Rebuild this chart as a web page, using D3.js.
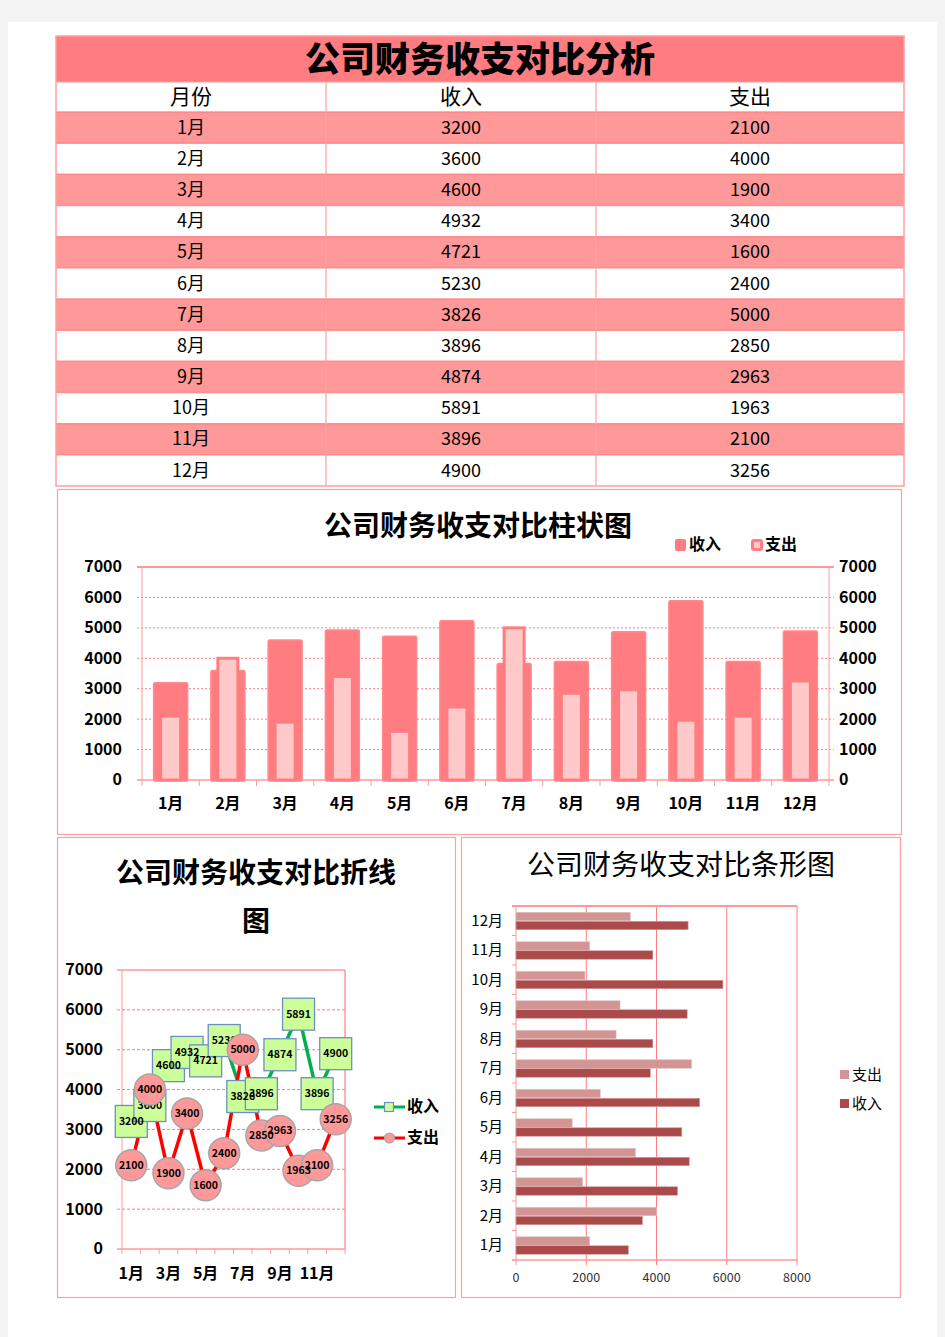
<!DOCTYPE html>
<html>
<head>
<meta charset="utf-8">
<script src="https://cdn.jsdelivr.net/npm/d3@7"></script>
<style>
  html, body { margin: 0; padding: 0; background: #f3f3f3; }
  svg { display: block; }
  text { font-family: "Noto Sans CJK SC", "Noto Sans", sans-serif; }
</style>
</head>
<body>
<svg id="chart" width="945" height="1337"></svg>
<script>
// ---------- DATA ----------
const mainTitle = "公司财务收支对比分析";
const tableHeaders = ["月份", "收入", "支出"];
const months = ["1月","2月","3月","4月","5月","6月","7月","8月","9月","10月","11月","12月"];
const income = [3200, 3600, 4600, 4932, 4721, 5230, 3826, 3896, 4874, 5891, 3896, 4900];
const expense = [2100, 4000, 1900, 3400, 1600, 2400, 5000, 2850, 2963, 1963, 2100, 3256];
const seriesNames = ["收入", "支出"];
const yTicks = [0, 1000, 2000, 3000, 4000, 5000, 6000, 7000];
const hTicks = [0, 2000, 4000, 6000, 8000];
const lineXLabels = ["1月", "3月", "5月", "7月", "9月", "11月"];
const barTitle = "公司财务收支对比柱状图";
const lineTitle1 = "公司财务收支对比折线";
const lineTitle2 = "图";
const hbarTitle = "公司财务收支对比条形图";

// ---------- SETUP ----------
const svg = d3.select("#chart");
const PINK_DARK = "#ff7c80";
const PINK_ROW = "#ff9999";
const PINK_LINE = "#ff9f9f";
const DY = "-0.1em";

// helper for centered text
function txt(g, x, y, s, size, weight, anchor) {
  return g.append("text").attr("x", x).attr("y", y).attr("dy", DY)
    .attr("text-anchor", anchor || "middle").attr("dominant-baseline", "central")
    .attr("font-size", size).attr("font-weight", weight || 400).attr("fill", "#000").text(s);
}

// page
svg.append("rect").attr("x", 0).attr("y", 0).attr("width", 945).attr("height", 1337).attr("fill", "#f3f3f3");
svg.append("rect").attr("x", 8).attr("y", 22).attr("width", 929).attr("height", 1315).attr("fill", "#ffffff");

// ---------- TABLE ----------
const T = { x0: 56, x1: 904, top: 36, titleB: 82, headB: 112, bottom: 486 };
const colEdges = [56, 326, 596, 904];
const colX = d3.scaleOrdinal().domain([0,1,2]).range([191, 461, 750]);
const rowY = d3.scaleBand().domain(months).range([T.headB, T.bottom]);
const tbl = svg.append("g");

tbl.append("rect").attr("x", T.x0).attr("y", T.top).attr("width", T.x1 - T.x0).attr("height", T.titleB - T.top)
  .attr("fill", PINK_DARK);
txt(tbl, (T.x0 + T.x1) / 2, (T.top + T.titleB) / 2 + 1, mainTitle, 35, 900);

tableHeaders.forEach((h, i) => txt(tbl, colX(i), (T.titleB + T.headB) / 2 + 0.5, h, 21, 400));

const rows = tbl.selectAll(".row").data(months).enter().append("g");
rows.append("rect")
  .attr("x", T.x0).attr("y", d => rowY(d)).attr("width", T.x1 - T.x0).attr("height", rowY.bandwidth())
  .attr("fill", (d, i) => i % 2 === 0 ? PINK_ROW : "#ffffff");
rows.each(function(d, i) {
  const g = d3.select(this);
  const vals = [d, income[i], expense[i]];
  g.selectAll("text").data(vals).enter().append("text")
    .attr("x", (v, j) => colX(j)).attr("y", rowY(d) + rowY.bandwidth() / 2).attr("dy", DY)
    .attr("text-anchor", "middle").attr("dominant-baseline", "central")
    .attr("font-size", 18).attr("fill", "#000").text(v => v);
});
months.forEach((m, i) => {
  tbl.append("line").attr("x1", T.x0).attr("x2", T.x1).attr("y1", rowY(m)).attr("y2", rowY(m))
    .attr("stroke", PINK_DARK).attr("stroke-width", 1.5).attr("opacity", 0.8);
});
tbl.append("line").attr("x1", T.x0).attr("x2", T.x1).attr("y1", T.titleB).attr("y2", T.titleB)
  .attr("stroke", PINK_LINE).attr("stroke-width", 1);
colEdges.slice(1, 3).forEach(x => {
  tbl.append("line").attr("x1", x).attr("x2", x).attr("y1", T.titleB).attr("y2", T.bottom)
    .attr("stroke", PINK_LINE).attr("stroke-width", 1.2);
});
tbl.append("rect").attr("x", T.x0).attr("y", T.top).attr("width", T.x1 - T.x0).attr("height", T.bottom - T.top)
  .attr("fill", "none").attr("stroke", PINK_LINE).attr("stroke-width", 1.5);

// ---------- PANELS ----------
function panel(x, y, w, h) {
  svg.append("rect").attr("x", x).attr("y", y).attr("width", w).attr("height", h)
    .attr("fill", "#fff").attr("stroke", PINK_LINE).attr("stroke-width", 1.2);
}
panel(57.5, 489.5, 844, 345);
panel(57.5, 837.5, 398, 460);
panel(461.5, 837.5, 439, 460);

// ---------- COLUMN CHART ----------
{
  const g = svg.append("g");
  const L = 142, R = 829, TOP = 567, BOT = 780;
  const x = d3.scaleBand().domain(months).range([L, R]);
  const y = d3.scaleLinear().domain([0, 7000]).range([BOT, TOP]);

  txt(g, 478, 527, barTitle, 28, 700);

  g.selectAll(".gl").data(yTicks.filter(t => t > 0 && t < 7000)).enter().append("line")
    .attr("x1", L - 5).attr("x2", R + 5).attr("y1", d => y(d)).attr("y2", d => y(d))
    .attr("stroke", PINK_DARK).attr("stroke-width", 1).attr("stroke-dasharray", "2,2");
  g.append("line").attr("x1", L - 5).attr("x2", R + 5).attr("y1", TOP).attr("y2", TOP).attr("stroke", PINK_ROW).attr("stroke-width", 2);
  g.append("line").attr("x1", L).attr("x2", L).attr("y1", TOP).attr("y2", BOT).attr("stroke", PINK_ROW).attr("stroke-width", 1);
  g.append("line").attr("x1", R).attr("x2", R).attr("y1", TOP).attr("y2", BOT).attr("stroke", PINK_ROW).attr("stroke-width", 1);
  g.append("line").attr("x1", L - 5).attr("x2", R + 5).attr("y1", BOT).attr("y2", BOT).attr("stroke", PINK_ROW).attr("stroke-width", 1.5);
  const bounds = months.map(m => x(m)).concat([R]);
  g.selectAll(".xt").data(bounds).enter().append("line")
    .attr("x1", d => d).attr("x2", d => d).attr("y1", BOT).attr("y2", BOT + 6)
    .attr("stroke", PINK_ROW).attr("stroke-width", 1);

  const wI = 34;
  g.selectAll(".bi").data(income).enter().append("rect")
    .attr("x", (d, i) => x(months[i]) + x.bandwidth() / 2 - wI / 2)
    .attr("y", d => y(d)).attr("width", wI).attr("height", d => BOT - y(d) + 1)
    .attr("fill", PINK_DARK).attr("stroke", "#ff8a8e").attr("stroke-width", 1.5).attr("rx", 1.5);
  const wE = 20;
  g.selectAll(".be").data(expense).enter().append("rect")
    .attr("x", (d, i) => x(months[i]) + x.bandwidth() / 2 - wE / 2)
    .attr("y", d => y(d)).attr("width", wE).attr("height", d => BOT - y(d))
    .attr("fill", "#ffc9c9").attr("stroke", PINK_DARK).attr("stroke-width", 3);

  yTicks.forEach(t => {
    txt(g, 122, y(t), t, 16, 700, "end");
    txt(g, 839, y(t), t, 16, 700, "start");
  });
  months.forEach(m => txt(g, x(m) + x.bandwidth() / 2, 804, m, 16, 700));

  g.append("rect").attr("x", 675).attr("y", 539).attr("width", 11).attr("height", 12).attr("rx", 2).attr("fill", PINK_DARK);
  txt(g, 689, 545, seriesNames[0], 16, 700, "start");
  g.append("rect").attr("x", 752.5).attr("y", 540.5).attr("width", 9).attr("height", 9).attr("rx", 1.5)
    .attr("fill", "#ffc9c9").attr("stroke", PINK_DARK).attr("stroke-width", 3);
  txt(g, 765, 545, seriesNames[1], 16, 700, "start");
}

// ---------- LINE CHART ----------
{
  const g = svg.append("g");
  const L = 122, R = 345, TOP = 970, BOT = 1249;
  const x = d3.scaleBand().domain(months).range([L, R]);
  const y = d3.scaleLinear().domain([0, 7000]).range([BOT, TOP]);
  const cx = m => x(m) + x.bandwidth() / 2;

  txt(g, 256, 874, lineTitle1, 28, 700);
  txt(g, 256, 922, lineTitle2, 28, 700);

  g.selectAll(".gl").data(yTicks.filter(t => t > 0 && t < 7000)).enter().append("line")
    .attr("x1", L - 5).attr("x2", R).attr("y1", d => y(d)).attr("y2", d => y(d))
    .attr("stroke", PINK_DARK).attr("stroke-width", 1).attr("stroke-dasharray", "3,2");
  g.append("line").attr("x1", L - 5).attr("x2", R).attr("y1", TOP).attr("y2", TOP).attr("stroke", PINK_ROW).attr("stroke-width", 1.5);
  g.append("line").attr("x1", L).attr("x2", L).attr("y1", TOP).attr("y2", BOT).attr("stroke", PINK_ROW).attr("stroke-width", 1);
  g.append("line").attr("x1", R).attr("x2", R).attr("y1", TOP).attr("y2", BOT).attr("stroke", PINK_ROW).attr("stroke-width", 1.5);
  g.append("line").attr("x1", L - 5).attr("x2", R).attr("y1", BOT).attr("y2", BOT).attr("stroke", PINK_ROW).attr("stroke-width", 1.5);
  const bounds = months.map(m => x(m)).concat([R]);
  g.selectAll(".xt").data(bounds).enter().append("line")
    .attr("x1", d => d).attr("x2", d => d).attr("y1", BOT).attr("y2", BOT + 5)
    .attr("stroke", PINK_ROW).attr("stroke-width", 1);

  yTicks.forEach(t => txt(g, 103, y(t), t, 16, 700, "end"));
  lineXLabels.forEach(m => txt(g, cx(m), 1274, m, 16, 700));

  const line = d3.line().x((d, i) => cx(months[i])).y(d => y(d));
  g.append("path").datum(income).attr("d", line).attr("fill", "none").attr("stroke", "#00b050").attr("stroke-width", 3.5);
  g.append("path").datum(expense).attr("d", line).attr("fill", "none").attr("stroke", "#ff0000").attr("stroke-width", 3.5);

  const sq = 32;
  income.forEach((v, i) => {
    g.append("rect").attr("x", cx(months[i]) - sq / 2).attr("y", y(v) - sq / 2).attr("width", sq).attr("height", sq)
      .attr("fill", "#ccff99").attr("stroke", "#6d8fc2").attr("stroke-width", 1.3);
  });
  income.forEach((v, i) => txt(g, cx(months[i]), y(v), v, 10.5, 700));
  expense.forEach((v, i) => {
    g.append("circle").attr("cx", cx(months[i])).attr("cy", y(v)).attr("r", 15.5)
      .attr("fill", "#ff9999").attr("stroke", "#a6a6a6").attr("stroke-width", 1.5);
  });
  expense.forEach((v, i) => txt(g, cx(months[i]), y(v), v, 10.5, 700));

  g.append("line").attr("x1", 374).attr("x2", 405).attr("y1", 1107).attr("y2", 1107).attr("stroke", "#00b050").attr("stroke-width", 3);
  g.append("rect").attr("x", 384.5).attr("y", 1102.5).attr("width", 9).attr("height", 9).attr("fill", "#ccff99").attr("stroke", "#6d8fc2").attr("stroke-width", 1.2);
  txt(g, 407, 1107, seriesNames[0], 16, 700, "start");
  g.append("line").attr("x1", 374).attr("x2", 405).attr("y1", 1138).attr("y2", 1138).attr("stroke", "#ff0000").attr("stroke-width", 3);
  g.append("circle").attr("cx", 389.5).attr("cy", 1138).attr("r", 5).attr("fill", "#ff9999").attr("stroke", "#a6a6a6").attr("stroke-width", 1.2);
  txt(g, 407, 1138, seriesNames[1], 16, 700, "start");
}

// ---------- HORIZONTAL BAR CHART ----------
{
  const g = svg.append("g");
  const L = 516, R = 797, TOP = 906, BOT = 1260;
  const y = d3.scaleBand().domain(months.slice().reverse()).range([TOP, BOT]);
  const x = d3.scaleLinear().domain([0, 8000]).range([L, R]);

  txt(g, 681, 866, hbarTitle, 28, 400);

  g.selectAll(".vg").data(hTicks.filter(t => t > 0)).enter().append("line")
    .attr("x1", d => x(d)).attr("x2", d => x(d)).attr("y1", TOP).attr("y2", BOT + 5)
    .attr("stroke", PINK_DARK).attr("stroke-width", 1);
  g.append("line").attr("x1", L - 4).attr("x2", R).attr("y1", TOP).attr("y2", TOP).attr("stroke", PINK_ROW).attr("stroke-width", 2);
  g.append("line").attr("x1", L).attr("x2", L).attr("y1", TOP).attr("y2", BOT + 5).attr("stroke", PINK_ROW).attr("stroke-width", 1);
  g.append("line").attr("x1", L - 4).attr("x2", R).attr("y1", BOT).attr("y2", BOT).attr("stroke", PINK_ROW).attr("stroke-width", 1.5);
  const bounds = months.map(m => y(m)).concat([BOT]);
  g.selectAll(".yt").data(bounds).enter().append("line")
    .attr("x1", L - 4).attr("x2", L).attr("y1", d => d).attr("y2", d => d)
    .attr("stroke", PINK_ROW).attr("stroke-width", 1);

  const bh = 8.5;
  g.selectAll(".be").data(expense).enter().append("rect")
    .attr("x", L).attr("y", (d, i) => y(months[i]) + y.bandwidth() / 2 - bh)
    .attr("width", d => x(d) - L).attr("height", bh)
    .attr("fill", "#d39494").attr("stroke", "#e8c4c4").attr("stroke-width", 0.6);
  g.selectAll(".bi").data(income).enter().append("rect")
    .attr("x", L).attr("y", (d, i) => y(months[i]) + y.bandwidth() / 2 + 0.5)
    .attr("width", d => x(d) - L).attr("height", bh)
    .attr("fill", "#aa4a4a").attr("stroke", "#d9a0a0").attr("stroke-width", 0.6);

  months.forEach(m => txt(g, 503, y(m) + y.bandwidth() / 2, m, 15, 400, "end"));
  hTicks.forEach(t => txt(g, x(t), 1278, t, 12.5, 400).attr("fill", "#333"));

  g.append("rect").attr("x", 840).attr("y", 1070).attr("width", 9).attr("height", 9).attr("fill", "#d39494");
  txt(g, 852, 1075, seriesNames[1], 15, 400, "start");
  g.append("rect").attr("x", 840).attr("y", 1099).attr("width", 9).attr("height", 9).attr("fill", "#aa4a4a");
  txt(g, 852, 1104, seriesNames[0], 15, 400, "start");
}
</script>
</body>
</html>
